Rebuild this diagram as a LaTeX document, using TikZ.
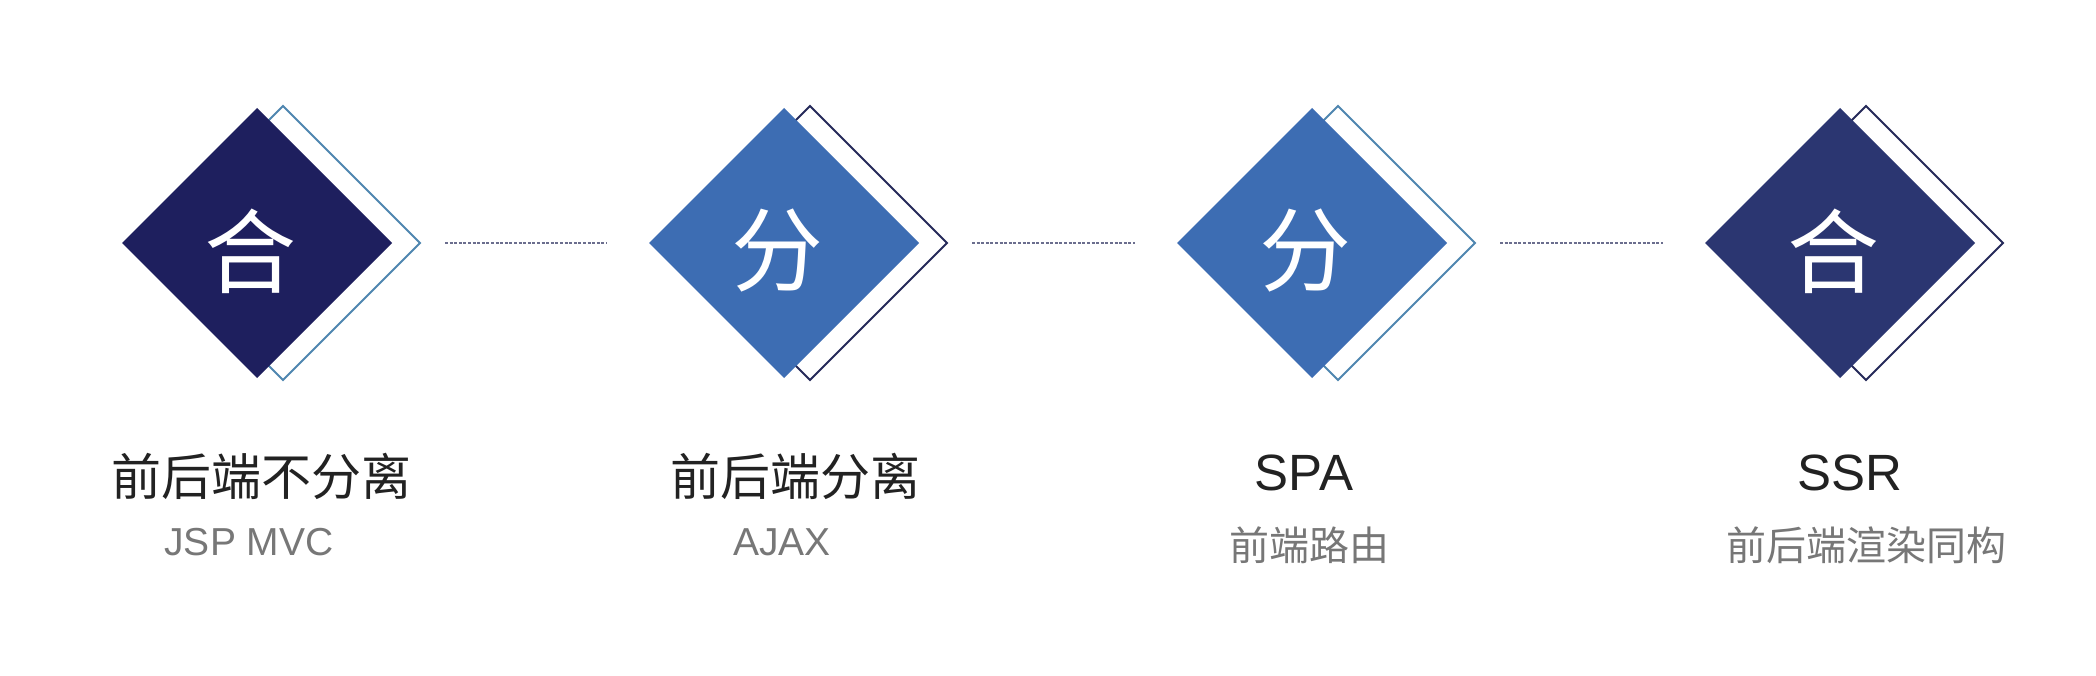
\documentclass[tikz,border=0pt]{standalone}
\usepackage{fontspec}
\setmainfont{Liberation Sans}
\newfontfamily\cjk{Noto Sans CJK SC}
\usetikzlibrary{shapes.geometric}
\definecolor{navyA}{HTML}{1E1F5E}
\definecolor{blueB}{HTML}{3D6DB3}
\definecolor{navyD}{HTML}{2B3671}
\definecolor{steel}{HTML}{4F86B0}
\definecolor{edgedark}{HTML}{262A5A}
\definecolor{dashc}{HTML}{6B6E8E}
\definecolor{titlec}{HTML}{222222}
\definecolor{subc}{HTML}{777777}
\begin{document}
\begin{tikzpicture}[x=1pt,y=-1pt,
  fillbox/.style={diamond, minimum width=270pt, minimum height=270pt, inner sep=0pt, outer sep=0pt, fill=#1},
  framebox/.style={diamond, minimum width=274pt, minimum height=274pt, inner sep=0pt, outer sep=0pt, draw=#1, line width=2pt},
  glyph/.style={text=white, font=\cjk\fontsize{92}{92}\selectfont, inner sep=0pt},
  titlecjk/.style={anchor=base, text=titlec, font=\cjk\fontsize{50}{50}\selectfont, inner sep=0pt},
  titlelat/.style={anchor=base, text=titlec, font=\fontsize{51}{51}\selectfont, inner sep=0pt},
  subcjk/.style={anchor=base, text=subc, font=\cjk\fontsize{40}{40}\selectfont, inner sep=0pt},
  sublat/.style={anchor=base, text=subc, font=\fontsize{39}{39}\selectfont, inner sep=0pt},
  dashline/.style={draw=dashc, line width=2pt, dash pattern=on 3pt off 1.6pt}
]
\useasboundingbox (0,0) rectangle (2096,676);
\fill[white] (0,0) rectangle (2096,676);

% frames (behind)
\node[framebox=steel]    (f1) at (283,243) {};
\node[framebox=edgedark] (f2) at (810,243) {};
\node[framebox=steel]    (f3) at (1338,243) {};
\node[framebox=edgedark] (f4) at (1866,243) {};

% filled diamonds
\node[fillbox=navyA] (d1) at (257,243) {};
\node[fillbox=blueB] (d2) at (784,243) {};
\node[fillbox=blueB] (d3) at (1312,243) {};
\node[fillbox=navyD] (d4) at (1840,243) {};

% glyphs
\node[glyph] (g1) at (250,251) {合};
\node[glyph] (g2) at (777,251) {分};
\node[glyph] (g3) at (1305,251) {分};
\node[glyph] (g4) at (1833,251) {合};

% dashed connectors
\draw[dashline] ([xshift=25pt]f1.east) -- ([xshift=-42pt]d2.west);
\draw[dashline] ([xshift=25pt]f2.east) -- ([xshift=-42pt]d3.west);
\draw[dashline] ([xshift=25pt]f3.east) -- ([xshift=-42pt]d4.west);

% titles
\node[titlecjk] (t1) at (261,495) {前后端不分离};
\node[titlecjk] (t2) at (795,495) {前后端分离};
\node[titlelat] (t3) at (1304,490) {SPA};
\node[titlelat] (t4) at (1850,490) {SSR};

% subtitles
\node[sublat] (s1) at (249,555) {JSP MVC};
\node[sublat] (s2) at (782,555) {AJAX};
\node[subcjk] (s3) at (1309,560) {前端路由};
\node[subcjk] (s4) at (1866,560) {前后端渲染同构};
\end{tikzpicture}
\end{document}
